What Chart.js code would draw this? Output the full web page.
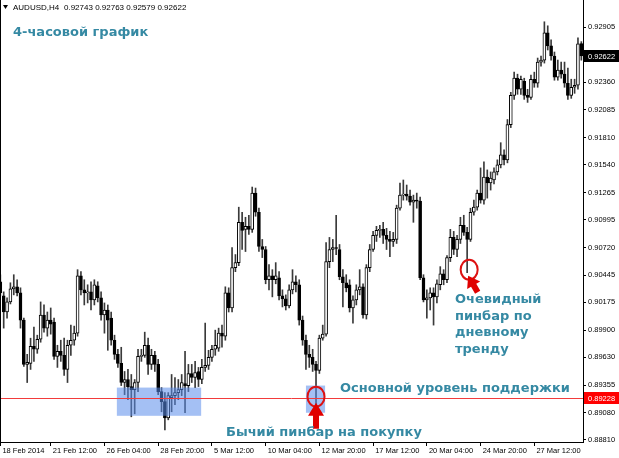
<!DOCTYPE html>
<html>
<head>
<meta charset="utf-8">
<script src="https://cdn.jsdelivr.net/npm/chart.js@4.4.0/dist/chart.umd.min.js"></script>
<style>
  html, body { margin: 0; padding: 0; background: #fff; }
  #wrap { width: 619px; height: 458px; }
</style>
</head>
<body>
<div id="wrap"><canvas id="chart" width="619" height="458"></canvas></div>
<script>
// AUDUSD H4, one entry per bar (bar 1 = leftmost visible)
const symbol = 'AUDUSD,H4';
const lastQuote = [0.92743, 0.92763, 0.92579, 0.92622];

const openP = [
  0.9038, 0.9024, 0.9008, 0.9018, 0.9031, 0.9033, 0.9027, 0.9000, 0.8956, 0.8957,
  0.8974, 0.8971, 0.8981, 0.9005, 0.8992, 0.9000, 0.8998, 0.8964, 0.8969, 0.8965,
  0.8951, 0.8975, 0.8980, 0.8987, 0.9044, 0.9030, 0.9027, 0.9028, 0.9020, 0.9034,
  0.9022, 0.9005, 0.9010, 0.9002, 0.8980, 0.8966, 0.8957, 0.8938, 0.8941, 0.8934,
  0.8931, 0.8938, 0.8964, 0.8965, 0.8975, 0.8956, 0.8965, 0.8956, 0.8929, 0.8919,
  0.8903, 0.8923, 0.8925, 0.8928, 0.8931, 0.8937, 0.8935, 0.8947, 0.8943, 0.8949,
  0.8941, 0.8953, 0.8955, 0.8963, 0.8971, 0.8972, 0.8987, 0.8984, 0.9027, 0.9012,
  0.9052, 0.9057, 0.9097, 0.9090, 0.9093, 0.9090, 0.9126, 0.9107, 0.9073, 0.9070,
  0.9040, 0.9044, 0.9040, 0.9042, 0.9024, 0.9021, 0.9014, 0.9030, 0.9038, 0.9035,
  0.9000, 0.8980, 0.8966, 0.8963, 0.8956, 0.8950, 0.8982, 0.8986, 0.9058, 0.9070,
  0.9072, 0.9070, 0.9043, 0.9037, 0.9035, 0.9012, 0.9020, 0.9030, 0.9033, 0.9005,
  0.9052, 0.9070, 0.9084, 0.9089, 0.9090, 0.9084, 0.9080, 0.9078, 0.9080, 0.9111,
  0.9124, 0.9125, 0.9123, 0.9117, 0.9119, 0.9118, 0.9042, 0.9020, 0.9022, 0.9027,
  0.9023, 0.9035, 0.9046, 0.9040, 0.9062, 0.9082, 0.9070, 0.9080, 0.9094, 0.9087,
  0.9080, 0.9107, 0.9112, 0.9126, 0.9119, 0.9142, 0.9136, 0.9139, 0.9147, 0.9154,
  0.9164, 0.9159, 0.9194, 0.9223, 0.9240, 0.9229, 0.9237, 0.9223, 0.9221, 0.9239,
  0.9235, 0.9256, 0.9258, 0.9285, 0.9272, 0.9262, 0.9241, 0.9248, 0.9244, 0.9235,
  0.9223, 0.9231, 0.9233, 0.92743
];
const highP = [
  0.9045, 0.9028, 0.9022, 0.9037, 0.9045, 0.9040, 0.9032, 0.9002, 0.8966, 0.8982,
  0.8993, 0.8985, 0.9018, 0.9015, 0.9008, 0.9012, 0.9002, 0.8975, 0.8980, 0.8982,
  0.8980, 0.8995, 0.8994, 0.9050, 0.9048, 0.9040, 0.9035, 0.9038, 0.9040, 0.9038,
  0.9028, 0.9017, 0.9015, 0.9008, 0.8985, 0.8971, 0.8973, 0.8949, 0.8951, 0.8946,
  0.8941, 0.8971, 0.8971, 0.8988, 0.8982, 0.8971, 0.8969, 0.8961, 0.8933, 0.8928,
  0.8928, 0.8946, 0.8943, 0.8941, 0.8946, 0.8969, 0.8956, 0.8956, 0.8959, 0.8953,
  0.8961, 0.8997, 0.8970, 0.8975, 0.8990, 0.8992, 0.8995, 0.9033, 0.9032, 0.9072,
  0.9065, 0.9112, 0.9107, 0.9102, 0.9104, 0.9132, 0.9131, 0.9111, 0.9080, 0.9073,
  0.9055, 0.9050, 0.9057, 0.9048, 0.9030, 0.9025, 0.9035, 0.9050, 0.9044, 0.9040,
  0.9004, 0.8985, 0.8975, 0.8971, 0.8959, 0.8985, 0.8995, 0.9077, 0.9082, 0.9080,
  0.9104, 0.9075, 0.9050, 0.9045, 0.9040, 0.9024, 0.9035, 0.9050, 0.9036, 0.9055,
  0.9075, 0.9088, 0.9093, 0.9094, 0.9097, 0.9091, 0.9088, 0.9087, 0.9114, 0.9136,
  0.9139, 0.9134, 0.9129, 0.9124, 0.9126, 0.9122, 0.9045, 0.9030, 0.9032, 0.9032,
  0.9040, 0.9053, 0.9050, 0.9064, 0.9090, 0.9088, 0.9084, 0.9102, 0.9104, 0.9092,
  0.9111, 0.9119, 0.9129, 0.9151, 0.9157, 0.9149, 0.9147, 0.9151, 0.9159, 0.9176,
  0.9169, 0.9199, 0.9226, 0.9246, 0.9244, 0.9242, 0.9240, 0.9229, 0.9243, 0.9246,
  0.9260, 0.9262, 0.9296, 0.9292, 0.9278, 0.9266, 0.9258, 0.9256, 0.9256, 0.9250,
  0.9239, 0.9239, 0.9280, 0.92763
];
const lowP = [
  0.9024, 0.8992, 0.9002, 0.9016, 0.9025, 0.9024, 0.8992, 0.8954, 0.8938, 0.8951,
  0.8959, 0.8967, 0.8978, 0.8988, 0.8984, 0.8986, 0.8961, 0.8953, 0.8959, 0.8945,
  0.8938, 0.8965, 0.8975, 0.8984, 0.9025, 0.9015, 0.9017, 0.9010, 0.9015, 0.9018,
  0.9000, 0.8987, 0.8970, 0.8975, 0.8961, 0.8953, 0.8935, 0.8926, 0.8921, 0.8904,
  0.8907, 0.8929, 0.8959, 0.8963, 0.8946, 0.8951, 0.8949, 0.8926, 0.8909, 0.8891,
  0.8901, 0.8909, 0.8916, 0.8921, 0.8925, 0.8908, 0.8929, 0.8938, 0.8933, 0.8934,
  0.8937, 0.8949, 0.8951, 0.8959, 0.8965, 0.8969, 0.8973, 0.8980, 0.9008, 0.9008,
  0.9048, 0.9054, 0.9070, 0.9068, 0.9085, 0.9087, 0.9103, 0.9068, 0.9062, 0.9036,
  0.9030, 0.9023, 0.9036, 0.9020, 0.9013, 0.9010, 0.9012, 0.9026, 0.9028, 0.8995,
  0.8975, 0.8951, 0.8953, 0.8949, 0.8916, 0.8947, 0.8980, 0.8984, 0.9052, 0.9058,
  0.9065, 0.9040, 0.9013, 0.9028, 0.9008, 0.8997, 0.9015, 0.9025, 0.9002, 0.9001,
  0.9048, 0.9068, 0.9078, 0.9082, 0.9076, 0.9070, 0.9063, 0.9073, 0.9076, 0.9109,
  0.9119, 0.9119, 0.9114, 0.9097, 0.9111, 0.9040, 0.9018, 0.9002, 0.9010, 0.8995,
  0.9017, 0.9030, 0.9035, 0.9037, 0.9058, 0.9065, 0.9063, 0.9076, 0.9084, 0.9047,
  0.9078, 0.9104, 0.9109, 0.9116, 0.9115, 0.9121, 0.9129, 0.9135, 0.9144, 0.9151,
  0.9154, 0.9156, 0.9191, 0.9219, 0.9224, 0.9224, 0.9219, 0.9216, 0.9219, 0.9231,
  0.9231, 0.9252, 0.9255, 0.9268, 0.9258, 0.9238, 0.9238, 0.9240, 0.9231, 0.9219,
  0.9220, 0.9225, 0.9229, 0.92579
];
const closeP = [
  0.9027, 0.9008, 0.9018, 0.9031, 0.9033, 0.9027, 0.9000, 0.8956, 0.8958, 0.8974,
  0.8971, 0.8981, 0.9005, 0.8992, 0.9000, 0.8996, 0.8964, 0.8969, 0.8965, 0.8951,
  0.8975, 0.8980, 0.8987, 0.9044, 0.9030, 0.9027, 0.9028, 0.9020, 0.9035, 0.9022,
  0.9005, 0.9010, 0.9000, 0.8980, 0.8966, 0.8957, 0.8938, 0.8941, 0.8934, 0.8931,
  0.8938, 0.8964, 0.8965, 0.8975, 0.8956, 0.8965, 0.8956, 0.8929, 0.8919, 0.8903,
  0.8925, 0.8925, 0.8928, 0.8931, 0.8938, 0.8935, 0.8947, 0.8943, 0.8948, 0.8941,
  0.8953, 0.8955, 0.8963, 0.8971, 0.8975, 0.8987, 0.8984, 0.9027, 0.9012, 0.9052,
  0.9057, 0.9097, 0.9089, 0.9093, 0.9090, 0.9126, 0.9107, 0.9073, 0.9070, 0.9040,
  0.9044, 0.9040, 0.9044, 0.9024, 0.9021, 0.9014, 0.9030, 0.9038, 0.9035, 0.9000,
  0.8980, 0.8966, 0.8963, 0.8956, 0.8950, 0.8982, 0.8986, 0.9058, 0.9070, 0.9072,
  0.9071, 0.9043, 0.9037, 0.9032, 0.9012, 0.9020, 0.9030, 0.9033, 0.9005, 0.9052,
  0.9070, 0.9084, 0.9089, 0.9090, 0.9084, 0.9080, 0.9078, 0.9080, 0.9111, 0.9124,
  0.9125, 0.9123, 0.9117, 0.9119, 0.9118, 0.9042, 0.9020, 0.9022, 0.9027, 0.9023,
  0.9036, 0.9046, 0.9040, 0.9062, 0.9082, 0.9070, 0.9080, 0.9094, 0.9087, 0.9080,
  0.9107, 0.9112, 0.9126, 0.9119, 0.9142, 0.9136, 0.9141, 0.9147, 0.9154, 0.9164,
  0.9159, 0.9194, 0.9223, 0.9240, 0.9229, 0.9239, 0.9223, 0.9221, 0.9239, 0.9235,
  0.9256, 0.9258, 0.9285, 0.9272, 0.9262, 0.9241, 0.9248, 0.9244, 0.9235, 0.9223,
  0.9231, 0.9233, 0.9274, 0.92622
];

const timeTickBars = [1, 16, 32, 48, 64, 80, 96, 112, 128, 144, 160];
const timeTickLabels = ['18 Feb 2014', '21 Feb 12:00', '26 Feb 04:00', '28 Feb 20:00', '5 Mar 12:00',
  '10 Mar 04:00', '12 Mar 20:00', '17 Mar 12:00', '20 Mar 04:00', '24 Mar 20:00', '27 Mar 12:00'];
const priceTicks = [0.92905, 0.92360, 0.92085, 0.91810, 0.91540, 0.91265, 0.90995, 0.90720,
  0.90445, 0.90175, 0.89900, 0.89630, 0.89355, 0.89080, 0.88810];
const supportLevel = 0.89228;

// marked areas, in bar / price units
const zones = [
  { from: 35.7, to: 60.8, top: 0.8933, bottom: 0.8905 },
  { from: 92.0, to: 97.7, top: 0.8935, bottom: 0.8908 }
];
const pinbars = [
  { bar: 95, price: 0.8924 },
  { bar: 140.6, price: 0.9050 }
];

const TEAL = '#3589a3';
const AXIS_FONT = { family: 'Liberation Sans', size: 7.5 };

const bars = openP.map((_, i) => i + 1);
const bodyData = bars.map((b, i) => ({ x: b, y: [openP[i], closeP[i]] }));
const wickData = bars.map((b, i) => ({ x: b, y: [lowP[i], highP[i]] }));

function arrow(ctx, tx, ty, dx, dy, len, headLen, headW, shaftW) {
  const nx = -dy, ny = dx;
  const bx = tx - dx * headLen, by = ty - dy * headLen;
  const ex = tx - dx * len, ey = ty - dy * len;
  ctx.beginPath();
  ctx.moveTo(tx, ty);
  ctx.lineTo(bx + nx * headW / 2, by + ny * headW / 2);
  ctx.lineTo(bx + nx * shaftW / 2, by + ny * shaftW / 2);
  ctx.lineTo(ex + nx * shaftW / 2, ey + ny * shaftW / 2);
  ctx.lineTo(ex - nx * shaftW / 2, ey - ny * shaftW / 2);
  ctx.lineTo(bx - nx * shaftW / 2, by - ny * shaftW / 2);
  ctx.lineTo(bx - nx * headW / 2, by - ny * headW / 2);
  ctx.closePath();
  ctx.fill();
}

const overlay = {
  id: 'overlay',
  afterDatasetsDraw(chart) {
    const { ctx, chartArea: a, scales: { x, y } } = chart;
    ctx.save();
    ctx.beginPath();
    ctx.rect(a.left, a.top, a.width, a.height);
    ctx.clip();

    ctx.fillStyle = 'rgba(90,140,235,0.55)';
    zones.forEach(z => {
      const x0 = x.getPixelForValue(z.from), x1 = x.getPixelForValue(z.to);
      const y0 = y.getPixelForValue(z.top), y1 = y.getPixelForValue(z.bottom);
      ctx.fillRect(x0, y0, x1 - x0, y1 - y0);
    });

    const ys = Math.round(y.getPixelForValue(supportLevel)) + 0.5;
    ctx.strokeStyle = '#f23b3b';
    ctx.lineWidth = 1;
    ctx.beginPath();
    ctx.moveTo(a.left, ys);
    ctx.lineTo(a.right, ys);
    ctx.stroke();

    ctx.strokeStyle = '#dd1111';
    ctx.lineWidth = 2;
    pinbars.forEach(p => {
      ctx.beginPath();
      ctx.ellipse(x.getPixelForValue(p.bar), y.getPixelForValue(p.price), 8.5, 10, 0, 0, Math.PI * 2);
      ctx.stroke();
    });

    ctx.fillStyle = '#e00000';
    const p1x = x.getPixelForValue(pinbars[0].bar), p1y = y.getPixelForValue(pinbars[0].price);
    arrow(ctx, p1x, p1y + 6, 0, -1, 26, 13, 16, 6);
    const p2x = x.getPixelForValue(pinbars[1].bar), p2y = y.getPixelForValue(pinbars[1].price);
    arrow(ctx, p2x - 1, p2y + 6, -0.5, -0.866, 19, 11, 15, 6);
    ctx.restore();
  },
  afterDraw(chart) {
    const { ctx, chartArea: a, scales: { y } } = chart;
    ctx.save();

    // frame on the left
    ctx.strokeStyle = '#000';
    ctx.lineWidth = 1;
    ctx.beginPath();
    ctx.moveTo(0.5, a.top);
    ctx.lineTo(0.5, a.bottom);
    ctx.stroke();

    // price tags on the scale
    ctx.font = '7.5px "Liberation Sans"';
    ctx.textBaseline = 'middle';
    ctx.textAlign = 'left';
    [[lastQuote[3], '#000'], [supportLevel, '#ff0000']].forEach(([v, bg]) => {
      const py = Math.round(y.getPixelForValue(v));
      ctx.fillStyle = bg;
      ctx.fillRect(a.right + 1, py - 6, 619 - a.right - 1, 12);
      ctx.fillStyle = '#fff';
      ctx.fillText(v.toFixed(5), a.right + 5, py + 0.5);
    });

    // header line
    ctx.fillStyle = '#000';
    ctx.font = '8px "Liberation Sans"';
    ctx.beginPath();
    ctx.moveTo(3, 5); ctx.lineTo(8, 5); ctx.lineTo(5.5, 9); ctx.closePath();
    ctx.fill();
    ctx.fillText(symbol, 13, 7.5);
    ctx.fillText(lastQuote.map(v => v.toFixed(5)).join(' '), 64, 7.5);

    // captions
    ctx.fillStyle = TEAL;
    ctx.font = 'bold 13px "DejaVu Sans"';
    ctx.fillText('4-часовой график', 13, 33);
    ['Очевидный', 'пинбар по', 'дневному', 'тренду'].forEach((t, i) => ctx.fillText(t, 455, 300 + i * 16.5));
    ctx.fillText('Основной уровень поддержки', 340, 389);
    ctx.fillText('Бычий пинбар на покупку', 226, 433);
    ctx.restore();
  }
};

new Chart(document.getElementById('chart').getContext('2d'), {
  type: 'bar',
  data: {
    datasets: [{
      label: 'body',
      data: bodyData,
      order: 0,
      grouped: false,
      barThickness: 3,
      borderWidth: 1,
      borderSkipped: false,
      borderColor: '#000',
      backgroundColor: bars.map((_, i) => closeP[i] >= openP[i] ? '#fff' : '#000')
    }, {
      label: 'wick',
      data: wickData,
      order: 1,
      grouped: false,
      barThickness: 1,
      borderWidth: 0,
      backgroundColor: '#3a3a3a'
    }]
  },
  options: {
    responsive: false,
    animation: false,
    events: [],
    devicePixelRatio: 1,
    layout: { padding: 0 },
    plugins: {
      legend: { display: false },
      tooltip: { enabled: false }
    },
    scales: {
      x: {
        type: 'linear',
        offset: false,
        min: 0.9,
        max: 174.5,
        afterBuildTicks: s => { s.ticks = timeTickBars.map(v => ({ value: v })); },
        afterFit: s => { s.height = 16; s.paddingLeft = 0; s.paddingRight = 0; },
        grid: { offset: false, drawOnChartArea: false, tickLength: 4, color: '#000' },
        border: { display: true, color: '#000' },
        ticks: {
          align: 'start',
          autoSkip: false,
          maxRotation: 0,
          padding: 0,
          color: '#000',
          font: AXIS_FONT,
          callback: v => ' ' + timeTickLabels[timeTickBars.indexOf(v)]
        }
      },
      y: {
        position: 'right',
        min: 0.8879,
        max: 0.93176,
        afterBuildTicks: s => { s.ticks = priceTicks.map(v => ({ value: v })); },
        afterFit: s => { s.width = 36; s.paddingTop = 0; s.paddingBottom = 0; },
        grid: { drawOnChartArea: false, tickLength: 3, color: '#000' },
        border: { display: true, color: '#000' },
        ticks: {
          padding: 2,
          color: '#000',
          font: AXIS_FONT,
          callback: v => v.toFixed(5)
        }
      }
    }
  },
  plugins: [overlay]
});
</script>
</body>
</html>
